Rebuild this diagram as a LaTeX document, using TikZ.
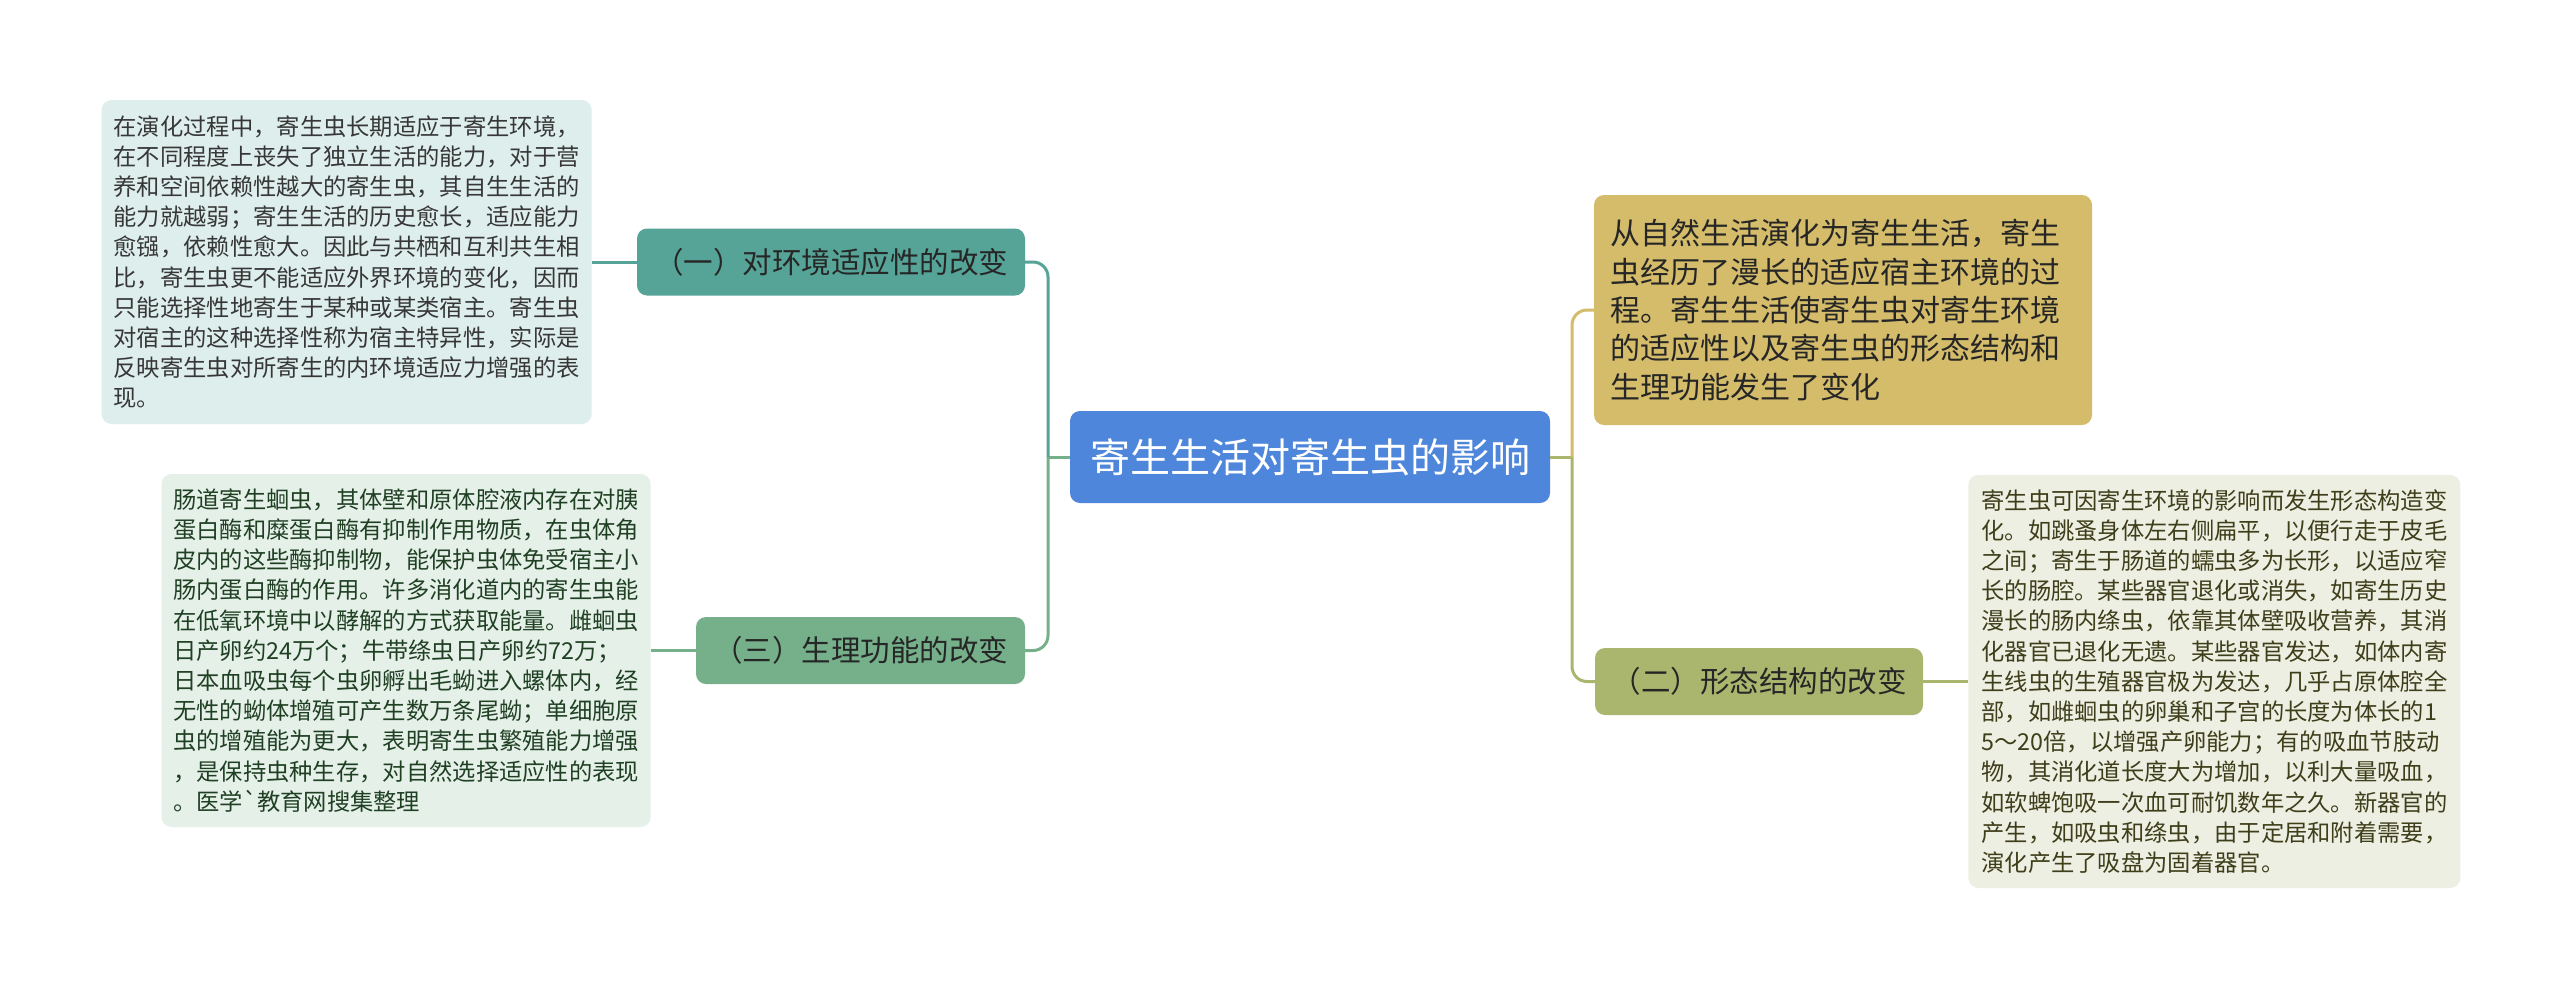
\documentclass[tikz,border=0pt]{standalone}
\usepackage{fontspec}
\newfontfamily\cjk{Noto Sans CJK SC}
\usetikzlibrary{positioning}

\definecolor{coreblue}{RGB}{77,134,219}
\definecolor{tealdark}{RGB}{86,164,151}
\definecolor{teallight}{RGB}{222,238,236}
\definecolor{greendark}{RGB}{117,176,138}
\definecolor{greenlight}{RGB}{229,240,232}
\definecolor{golddark}{RGB}{212,188,106}
\definecolor{olivedark}{RGB}{170,181,110}
\definecolor{olivelight}{RGB}{238,239,227}
\definecolor{graytext}{RGB}{55,55,55}
\definecolor{greentext}{RGB}{32,64,36}
\definecolor{olivetext}{RGB}{62,62,26}

\begin{document}
\begin{tikzpicture}[x=1pt, y=-1pt,
  every node/.style={rounded corners=10pt, inner ysep=0pt},
  core/.style={fill=coreblue, text=white, minimum width=480pt, minimum height=92pt,
    font=\cjk\fontsize{40}{48}\selectfont},
  sub/.style={minimum height=67pt, inner xsep=0pt, text=black!85,
    font=\cjk\fontsize{29.5}{36}\selectfont},
  detail/.style={align=left, text width=466pt, font=\cjk\fontsize{23.3}{30.2}\selectfont},
  link/.style={line width=3pt, rounded corners=15pt}
]
  \fill[white] (0,0) rectangle (2560,991);
  \useasboundingbox (0,0) rectangle (2560,991);

  % centre and main branches
  \node[core] (core) at (1310,457) {寄生生活对寄生虫的影响};
  \node[sub, fill=tealdark, minimum width=388pt] (c1) at (831,262) {（一）对环境适应性的改变};
  \node[sub, fill=greendark, minimum width=329pt] (c3) at (860.5,650.5) {（三）生理功能的改变};
  \node[sub, fill=olivedark, minimum width=328pt] (c2) at (1759,681.5) {（二）形态结构的改变};
  \node[detail, fill=golddark, text=black!85, inner xsep=16pt, minimum height=230pt,
    font=\cjk\fontsize{30}{38.3}\selectfont] (g1) at (1843,310)
    {从自然生活演化为寄生生活，寄生\\虫经历了漫长的适应宿主环境的过\\程。寄生生活使寄生虫对寄生环境\\的适应性以及寄生虫的形态结构和\\生理功能发生了变化};

  % detail texts
  \node[detail, fill=teallight, text=graytext, inner xsep=12pt, minimum height=324pt,
    left=45pt of c1] (d1)
    {在演化过程中，寄生虫长期适应于寄生环境，\\在不同程度上丧失了独立生活的能力，对于营\\养和空间依赖性越大的寄生虫，其自生生活的\\能力就越弱；寄生生活的历史愈长，适应能力\\愈镪，依赖性愈大。因此与共栖和互利共生相\\比，寄生虫更不能适应外界环境的变化，因而\\只能选择性地寄生于某种或某类宿主。寄生虫\\对宿主的这种选择性称为宿主特异性，实际是\\反映寄生虫对所寄生的内环境适应力增强的表\\现。};
  \node[detail, fill=greenlight, text=greentext, inner xsep=11.5pt, minimum height=353pt,
    left=45pt of c3] (d3)
    {肠道寄生蛔虫，其体壁和原体腔液内存在对胰\\蛋白酶和糜蛋白酶有抑制作用物质，在虫体角\\皮内的这些酶抑制物，能保护虫体免受宿主小\\肠内蛋白酶的作用。许多消化道内的寄生虫能\\在低氧环境中以酵解的方式获取能量。雌蛔虫\\日产卵约24万个；牛带绦虫日产卵约72万；\\日本血吸虫每个虫卵孵出毛蚴进入螺体内，经\\无性的蚴体增殖可产生数万条尾蚴；单细胞原\\虫的增殖能为更大，表明寄生虫繁殖能力增强\\，是保持虫种生存，对自然选择适应性的表现\\。医学\textasciigrave 教育网搜集整理};
  \node[detail, fill=olivelight, text=olivetext, inner xsep=13pt, minimum height=413pt,
    right=45pt of c2] (d2)
    {寄生虫可因寄生环境的影响而发生形态构造变\\化。如跳蚤身体左右侧扁平，以便行走于皮毛\\之间；寄生于肠道的蠕虫多为长形，以适应窄\\长的肠腔。某些器官退化或消失，如寄生历史\\漫长的肠内绦虫，依靠其体壁吸收营养，其消\\化器官已退化无遗。某些器官发达，如体内寄\\生线虫的生殖器官极为发达，几乎占原体腔全\\部，如雌蛔虫的卵巢和子宫的长度为体长的1\\5～20倍，以增强产卵能力；有的吸血节肢动\\物，其消化道长度大为增加，以利大量吸血，\\如软蜱饱吸一次血可耐饥数年之久。新器官的\\产生，如吸虫和绦虫，由于定居和附着需要，\\演化产生了吸盘为固着器官。};

  % connectors
  \coordinate (jl) at (1048,457);
  \coordinate (jr) at (1572,457);
  \draw[link, greendark] (core.west) -- (jl);
  \draw[link, tealdark] (jl) |- (c1.east);
  \draw[link, greendark] (jl) |- (c3.east);
  \draw[link, olivedark] (core.east) -- (jr);
  \draw[link, golddark] (jr) |- (g1.west);
  \draw[link, olivedark] (jr) |- (c2.west);
  \draw[link, tealdark] (c1.west) -- (d1.east);
  \draw[link, greendark] (c3.west) -- (d3.east);
  \draw[link, olivedark] (c2.east) -- (d2.west);
\end{tikzpicture}
\end{document}
